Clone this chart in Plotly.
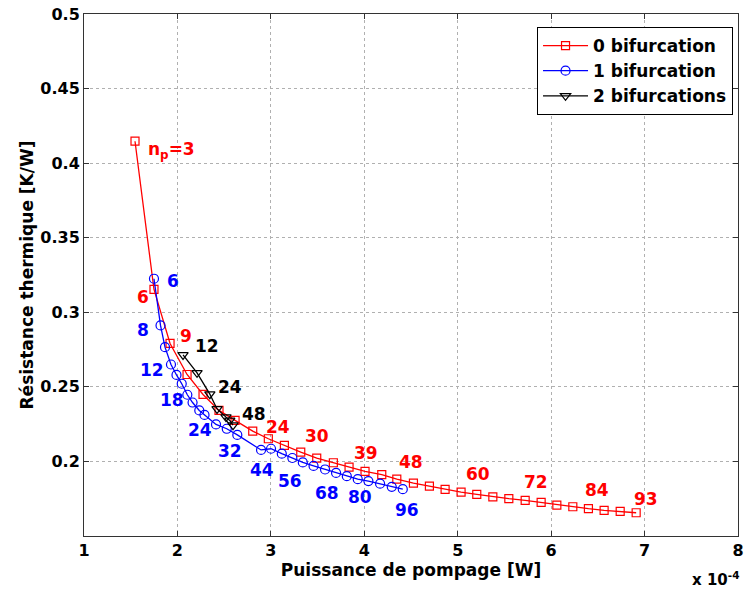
import plotly.graph_objects as go

# Pumping power (in units of 1e-4 W) and thermal resistance (K/W)
red_x = [1.546, 1.749, 1.921, 2.103, 2.274, 2.445, 2.617, 2.806, 2.973, 3.145, 3.320, 3.491,
         3.669, 3.837, 4.008, 4.187, 4.348, 4.526, 4.697, 4.865, 5.036, 5.204, 5.376, 5.547,
         5.722, 5.893, 6.061, 6.232, 6.399, 6.567, 6.739, 6.910]
red_y = [0.4147, 0.3153, 0.2791, 0.2583, 0.2449, 0.2342, 0.2275, 0.2203, 0.2152, 0.2107, 0.2062, 0.2022,
         0.1991, 0.1962, 0.1933, 0.1911, 0.1881, 0.1855, 0.1834, 0.1812, 0.1794, 0.1779, 0.1763, 0.1750,
         0.1739, 0.1725, 0.1707, 0.1696, 0.1683, 0.1672, 0.1665, 0.1656]

blue_x = [1.749, 1.819, 1.867, 1.931, 1.990, 2.046, 2.106, 2.162, 2.234, 2.290, 2.413, 2.528, 2.641,
          2.895, 3.002, 3.117, 3.230, 3.342, 3.457, 3.580, 3.698, 3.813, 3.930, 4.044, 4.169, 4.294, 4.412]
blue_y = [0.3225, 0.2912, 0.2766, 0.2650, 0.2580, 0.2521, 0.2447, 0.2395, 0.2342, 0.2312, 0.2248, 0.2219,
          0.2178, 0.2077, 0.2085, 0.2052, 0.2023, 0.1993, 0.1970, 0.1946, 0.1923, 0.1901, 0.1881, 0.1868,
          0.1851, 0.1830, 0.1814]

black_x = [2.060, 2.210, 2.347, 2.424, 2.520, 2.560, 2.595]
black_y = [0.2714, 0.2594, 0.2451, 0.2352, 0.2297, 0.2275, 0.2243]

series_names = ["0 bifurcation", "1 bifurcation", "2 bifurcations"]

# n_p labels: text, x, y
red_lbl_text = ["6", "9", "24", "30", "39", "48", "60", "72", "84", "93"]
red_lbl_x = [1.634, 2.092, 3.076, 3.494, 4.018, 4.500, 5.212, 5.838, 6.491, 7.015]
red_lbl_y = [0.3101, 0.2838, 0.2228, 0.2168, 0.2054, 0.1993, 0.1916, 0.1859, 0.1806, 0.1745]

blue_lbl_text = ["6", "8", "12", "18", "24", "32", "44", "56", "68", "80", "96"]
blue_lbl_x = [1.956, 1.631, 1.725, 1.939, 2.242, 2.563, 2.902, 3.205, 3.598, 3.954, 4.457]
blue_lbl_y = [0.3208, 0.2878, 0.2610, 0.2409, 0.2208, 0.2069, 0.1944, 0.1868, 0.1790, 0.1759, 0.1672]

black_lbl_text = ["12", "24", "48"]
black_lbl_x = [2.313, 2.563, 2.820]
black_lbl_y = [0.2777, 0.2496, 0.2315]

x_ticks = [1, 2, 3, 4, 5, 6, 7, 8]
y_ticks = [0.2, 0.25, 0.3, 0.35, 0.4, 0.45, 0.5]
y_tick_text = ["0.2", "0.25", "0.3", "0.35", "0.4", "0.45", "0.5"]

FONT = "DejaVu Sans"
RED, BLUE, BLACK = "#FF0000", "#0000FF", "#000000"

fig = go.Figure()
fig.add_trace(go.Scatter(x=red_x, y=red_y, mode="lines+markers", name=series_names[0],
                         line=dict(color=RED, width=1.3),
                         marker=dict(symbol="square-open", size=8, color=RED, line=dict(width=1.2))))
fig.add_trace(go.Scatter(x=blue_x, y=blue_y, mode="lines+markers", name=series_names[1],
                         line=dict(color=BLUE, width=1.3),
                         marker=dict(symbol="circle-open", size=9, color=BLUE, line=dict(width=1.2))))
fig.add_trace(go.Scatter(x=black_x, y=black_y, mode="lines+markers", name=series_names[2],
                         line=dict(color=BLACK, width=1.3),
                         marker=dict(symbol="triangle-down-open", size=9, color=BLACK, line=dict(width=1.2))))

ann = []
lblfont = lambda c, s=17: dict(family=FONT, size=s, color=c, weight="bold")
ann.append(dict(x=1.664, y=0.4085, xref="x", yref="y", text="n<sub>p</sub>=3", showarrow=False,
                xanchor="left", font=lblfont(RED, 17)))
for t, x, y in zip(red_lbl_text, red_lbl_x, red_lbl_y):
    ann.append(dict(x=x, y=y, xref="x", yref="y", text=t, showarrow=False, font=lblfont(RED)))
for t, x, y in zip(blue_lbl_text, blue_lbl_x, blue_lbl_y):
    ann.append(dict(x=x, y=y, xref="x", yref="y", text=t, showarrow=False, font=lblfont(BLUE)))
for t, x, y in zip(black_lbl_text, black_lbl_x, black_lbl_y):
    ann.append(dict(x=x, y=y, xref="x", yref="y", text=t, showarrow=False, font=lblfont(BLACK)))
ann.append(dict(x=0.966, y=-0.082, xref="paper", yref="paper", text="x 10<sup>-4</sup>", showarrow=False,
                xanchor="center", yanchor="middle", font=dict(family=FONT, size=15, color="black", weight="bold")))

axis_common = dict(showline=True, linecolor="#333333", linewidth=1, mirror="ticks",
                   ticks="inside", ticklen=5, tickcolor="#333333",
                   showgrid=True, gridcolor="#B0B0B0", griddash="dot", gridwidth=1,
                   zeroline=False, automargin=False, ticklabeloverflow="allow",
                   tickfont=dict(family=FONT, size=16, color="black", weight="bold"))

fig.update_layout(
    width=744, height=596,
    margin=dict(l=84, r=6, t=14, b=60),
    paper_bgcolor="white", plot_bgcolor="white",
    xaxis=dict(range=[1, 8], tickvals=x_ticks, ticktext=[str(v) for v in x_ticks],
               title=dict(text="Puissance de pompage [W]", standoff=4,
                          font=dict(family=FONT, size=17, color="black", weight="bold")),
               **axis_common),
    yaxis=dict(range=[0.15, 0.5], tickvals=y_ticks, ticktext=y_tick_text,
               title=dict(text="Résistance thermique [K/W]", standoff=2,
                          font=dict(family=FONT, size=17, color="black", weight="bold")),
               **axis_common),
    legend=dict(x=0.9924, y=0.975, xanchor="right", yanchor="top", itemwidth=45,
                bgcolor="white", bordercolor="black", borderwidth=1,
                font=dict(family=FONT, size=17, color="black", weight="bold")),
    annotations=ann,
    showlegend=True,
)

# remove the default 8px page margin so the 744x596 figure fills the window exactly
fig.write_html("out.html", config={"displayModeBar": False},
               post_script="document.body.style.margin='0';document.body.style.overflow='hidden';")
